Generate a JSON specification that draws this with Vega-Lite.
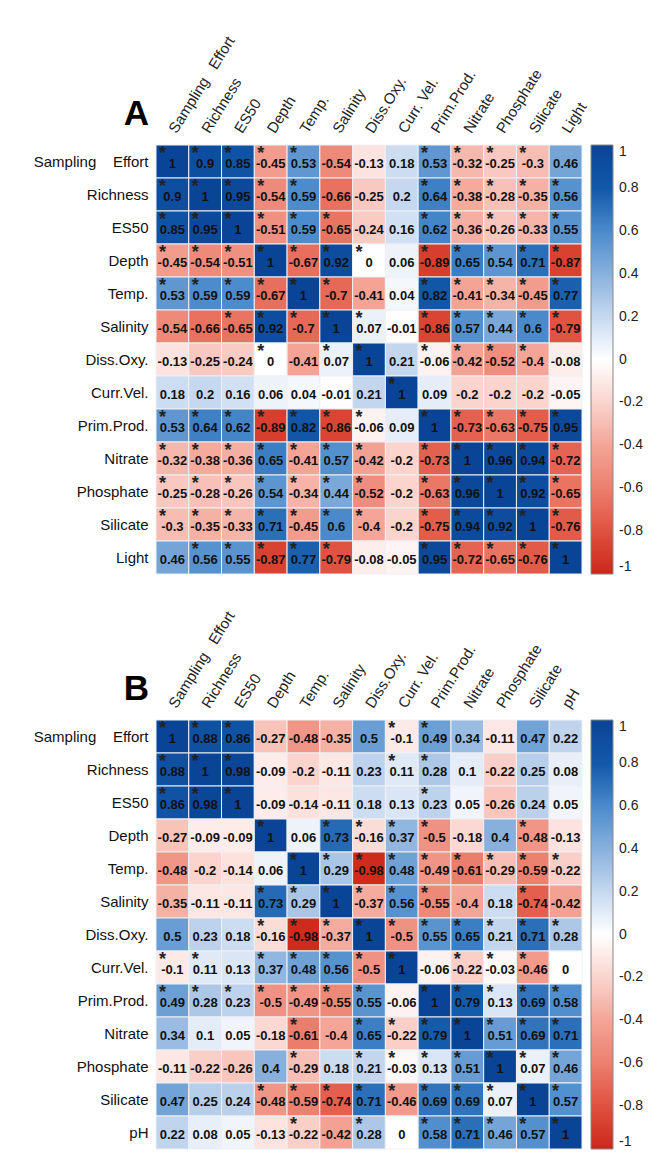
{
"$schema": "https://vega.github.io/schema/vega-lite/v6.json",
"background": "white",
"padding": {"left": 33, "top": 33, "right": 5, "bottom": 0},
"spacing": 33,
"config": {"view": {"stroke": null}, "font": "Liberation Sans", "axis": {"labelFont": "Liberation Sans", "titleFont": "Liberation Sans"}, "legend": {"labelFont": "Liberation Sans"}},
"resolve": {"scale": {"color": "independent"}},
"datasets": {
"A": [
{"r":"Sampling Effort","c":"Sampling Effort","v":1,"s":1},{"r":"Sampling Effort","c":"Richness","v":0.9,"s":1},{"r":"Sampling Effort","c":"ES50","v":0.85,"s":1},{"r":"Sampling Effort","c":"Depth","v":-0.45,"s":1},{"r":"Sampling Effort","c":"Temp.","v":0.53,"s":1},{"r":"Sampling Effort","c":"Salinity","v":-0.54,"s":0},{"r":"Sampling Effort","c":"Diss.Oxy.","v":-0.13,"s":0},{"r":"Sampling Effort","c":"Curr.Vel.","v":0.18,"s":0},{"r":"Sampling Effort","c":"Prim.Prod.","v":0.53,"s":1},{"r":"Sampling Effort","c":"Nitrate","v":-0.32,"s":1},{"r":"Sampling Effort","c":"Phosphate","v":-0.25,"s":1},{"r":"Sampling Effort","c":"Silicate","v":-0.3,"s":1},{"r":"Sampling Effort","c":"Light","v":0.46,"s":0},
{"r":"Richness","c":"Sampling Effort","v":0.9,"s":1},{"r":"Richness","c":"Richness","v":1,"s":1},{"r":"Richness","c":"ES50","v":0.95,"s":1},{"r":"Richness","c":"Depth","v":-0.54,"s":1},{"r":"Richness","c":"Temp.","v":0.59,"s":1},{"r":"Richness","c":"Salinity","v":-0.66,"s":0},{"r":"Richness","c":"Diss.Oxy.","v":-0.25,"s":0},{"r":"Richness","c":"Curr.Vel.","v":0.2,"s":0},{"r":"Richness","c":"Prim.Prod.","v":0.64,"s":1},{"r":"Richness","c":"Nitrate","v":-0.38,"s":1},{"r":"Richness","c":"Phosphate","v":-0.28,"s":1},{"r":"Richness","c":"Silicate","v":-0.35,"s":1},{"r":"Richness","c":"Light","v":0.56,"s":1},
{"r":"ES50","c":"Sampling Effort","v":0.85,"s":1},{"r":"ES50","c":"Richness","v":0.95,"s":1},{"r":"ES50","c":"ES50","v":1,"s":1},{"r":"ES50","c":"Depth","v":-0.51,"s":1},{"r":"ES50","c":"Temp.","v":0.59,"s":1},{"r":"ES50","c":"Salinity","v":-0.65,"s":1},{"r":"ES50","c":"Diss.Oxy.","v":-0.24,"s":0},{"r":"ES50","c":"Curr.Vel.","v":0.16,"s":0},{"r":"ES50","c":"Prim.Prod.","v":0.62,"s":1},{"r":"ES50","c":"Nitrate","v":-0.36,"s":1},{"r":"ES50","c":"Phosphate","v":-0.26,"s":1},{"r":"ES50","c":"Silicate","v":-0.33,"s":1},{"r":"ES50","c":"Light","v":0.55,"s":1},
{"r":"Depth","c":"Sampling Effort","v":-0.45,"s":1},{"r":"Depth","c":"Richness","v":-0.54,"s":1},{"r":"Depth","c":"ES50","v":-0.51,"s":1},{"r":"Depth","c":"Depth","v":1,"s":1},{"r":"Depth","c":"Temp.","v":-0.67,"s":1},{"r":"Depth","c":"Salinity","v":0.92,"s":1},{"r":"Depth","c":"Diss.Oxy.","v":0,"s":1},{"r":"Depth","c":"Curr.Vel.","v":0.06,"s":0},{"r":"Depth","c":"Prim.Prod.","v":-0.89,"s":1},{"r":"Depth","c":"Nitrate","v":0.65,"s":1},{"r":"Depth","c":"Phosphate","v":0.54,"s":1},{"r":"Depth","c":"Silicate","v":0.71,"s":1},{"r":"Depth","c":"Light","v":-0.87,"s":1},
{"r":"Temp.","c":"Sampling Effort","v":0.53,"s":1},{"r":"Temp.","c":"Richness","v":0.59,"s":1},{"r":"Temp.","c":"ES50","v":0.59,"s":1},{"r":"Temp.","c":"Depth","v":-0.67,"s":1},{"r":"Temp.","c":"Temp.","v":1,"s":1},{"r":"Temp.","c":"Salinity","v":-0.7,"s":1},{"r":"Temp.","c":"Diss.Oxy.","v":-0.41,"s":0},{"r":"Temp.","c":"Curr.Vel.","v":0.04,"s":0},{"r":"Temp.","c":"Prim.Prod.","v":0.82,"s":1},{"r":"Temp.","c":"Nitrate","v":-0.41,"s":1},{"r":"Temp.","c":"Phosphate","v":-0.34,"s":1},{"r":"Temp.","c":"Silicate","v":-0.45,"s":1},{"r":"Temp.","c":"Light","v":0.77,"s":1},
{"r":"Salinity","c":"Sampling Effort","v":-0.54,"s":0},{"r":"Salinity","c":"Richness","v":-0.66,"s":0},{"r":"Salinity","c":"ES50","v":-0.65,"s":1},{"r":"Salinity","c":"Depth","v":0.92,"s":1},{"r":"Salinity","c":"Temp.","v":-0.7,"s":1},{"r":"Salinity","c":"Salinity","v":1,"s":1},{"r":"Salinity","c":"Diss.Oxy.","v":0.07,"s":1},{"r":"Salinity","c":"Curr.Vel.","v":-0.01,"s":0},{"r":"Salinity","c":"Prim.Prod.","v":-0.86,"s":1},{"r":"Salinity","c":"Nitrate","v":0.57,"s":1},{"r":"Salinity","c":"Phosphate","v":0.44,"s":1},{"r":"Salinity","c":"Silicate","v":0.6,"s":1},{"r":"Salinity","c":"Light","v":-0.79,"s":1},
{"r":"Diss.Oxy.","c":"Sampling Effort","v":-0.13,"s":0},{"r":"Diss.Oxy.","c":"Richness","v":-0.25,"s":0},{"r":"Diss.Oxy.","c":"ES50","v":-0.24,"s":0},{"r":"Diss.Oxy.","c":"Depth","v":0,"s":1},{"r":"Diss.Oxy.","c":"Temp.","v":-0.41,"s":0},{"r":"Diss.Oxy.","c":"Salinity","v":0.07,"s":1},{"r":"Diss.Oxy.","c":"Diss.Oxy.","v":1,"s":1},{"r":"Diss.Oxy.","c":"Curr.Vel.","v":0.21,"s":0},{"r":"Diss.Oxy.","c":"Prim.Prod.","v":-0.06,"s":1},{"r":"Diss.Oxy.","c":"Nitrate","v":-0.42,"s":1},{"r":"Diss.Oxy.","c":"Phosphate","v":-0.52,"s":1},{"r":"Diss.Oxy.","c":"Silicate","v":-0.4,"s":1},{"r":"Diss.Oxy.","c":"Light","v":-0.08,"s":0},
{"r":"Curr.Vel.","c":"Sampling Effort","v":0.18,"s":0},{"r":"Curr.Vel.","c":"Richness","v":0.2,"s":0},{"r":"Curr.Vel.","c":"ES50","v":0.16,"s":0},{"r":"Curr.Vel.","c":"Depth","v":0.06,"s":0},{"r":"Curr.Vel.","c":"Temp.","v":0.04,"s":0},{"r":"Curr.Vel.","c":"Salinity","v":-0.01,"s":0},{"r":"Curr.Vel.","c":"Diss.Oxy.","v":0.21,"s":0},{"r":"Curr.Vel.","c":"Curr.Vel.","v":1,"s":1},{"r":"Curr.Vel.","c":"Prim.Prod.","v":0.09,"s":0},{"r":"Curr.Vel.","c":"Nitrate","v":-0.2,"s":0},{"r":"Curr.Vel.","c":"Phosphate","v":-0.2,"s":0},{"r":"Curr.Vel.","c":"Silicate","v":-0.2,"s":0},{"r":"Curr.Vel.","c":"Light","v":-0.05,"s":0},
{"r":"Prim.Prod.","c":"Sampling Effort","v":0.53,"s":1},{"r":"Prim.Prod.","c":"Richness","v":0.64,"s":1},{"r":"Prim.Prod.","c":"ES50","v":0.62,"s":1},{"r":"Prim.Prod.","c":"Depth","v":-0.89,"s":1},{"r":"Prim.Prod.","c":"Temp.","v":0.82,"s":1},{"r":"Prim.Prod.","c":"Salinity","v":-0.86,"s":1},{"r":"Prim.Prod.","c":"Diss.Oxy.","v":-0.06,"s":1},{"r":"Prim.Prod.","c":"Curr.Vel.","v":0.09,"s":0},{"r":"Prim.Prod.","c":"Prim.Prod.","v":1,"s":1},{"r":"Prim.Prod.","c":"Nitrate","v":-0.73,"s":1},{"r":"Prim.Prod.","c":"Phosphate","v":-0.63,"s":1},{"r":"Prim.Prod.","c":"Silicate","v":-0.75,"s":1},{"r":"Prim.Prod.","c":"Light","v":0.95,"s":1},
{"r":"Nitrate","c":"Sampling Effort","v":-0.32,"s":1},{"r":"Nitrate","c":"Richness","v":-0.38,"s":1},{"r":"Nitrate","c":"ES50","v":-0.36,"s":1},{"r":"Nitrate","c":"Depth","v":0.65,"s":1},{"r":"Nitrate","c":"Temp.","v":-0.41,"s":1},{"r":"Nitrate","c":"Salinity","v":0.57,"s":1},{"r":"Nitrate","c":"Diss.Oxy.","v":-0.42,"s":1},{"r":"Nitrate","c":"Curr.Vel.","v":-0.2,"s":0},{"r":"Nitrate","c":"Prim.Prod.","v":-0.73,"s":1},{"r":"Nitrate","c":"Nitrate","v":1,"s":1},{"r":"Nitrate","c":"Phosphate","v":0.96,"s":1},{"r":"Nitrate","c":"Silicate","v":0.94,"s":1},{"r":"Nitrate","c":"Light","v":-0.72,"s":1},
{"r":"Phosphate","c":"Sampling Effort","v":-0.25,"s":1},{"r":"Phosphate","c":"Richness","v":-0.28,"s":1},{"r":"Phosphate","c":"ES50","v":-0.26,"s":1},{"r":"Phosphate","c":"Depth","v":0.54,"s":1},{"r":"Phosphate","c":"Temp.","v":-0.34,"s":1},{"r":"Phosphate","c":"Salinity","v":0.44,"s":1},{"r":"Phosphate","c":"Diss.Oxy.","v":-0.52,"s":1},{"r":"Phosphate","c":"Curr.Vel.","v":-0.2,"s":0},{"r":"Phosphate","c":"Prim.Prod.","v":-0.63,"s":1},{"r":"Phosphate","c":"Nitrate","v":0.96,"s":1},{"r":"Phosphate","c":"Phosphate","v":1,"s":1},{"r":"Phosphate","c":"Silicate","v":0.92,"s":1},{"r":"Phosphate","c":"Light","v":-0.65,"s":1},
{"r":"Silicate","c":"Sampling Effort","v":-0.3,"s":1},{"r":"Silicate","c":"Richness","v":-0.35,"s":1},{"r":"Silicate","c":"ES50","v":-0.33,"s":1},{"r":"Silicate","c":"Depth","v":0.71,"s":1},{"r":"Silicate","c":"Temp.","v":-0.45,"s":1},{"r":"Silicate","c":"Salinity","v":0.6,"s":1},{"r":"Silicate","c":"Diss.Oxy.","v":-0.4,"s":1},{"r":"Silicate","c":"Curr.Vel.","v":-0.2,"s":0},{"r":"Silicate","c":"Prim.Prod.","v":-0.75,"s":1},{"r":"Silicate","c":"Nitrate","v":0.94,"s":1},{"r":"Silicate","c":"Phosphate","v":0.92,"s":1},{"r":"Silicate","c":"Silicate","v":1,"s":1},{"r":"Silicate","c":"Light","v":-0.76,"s":1},
{"r":"Light","c":"Sampling Effort","v":0.46,"s":0},{"r":"Light","c":"Richness","v":0.56,"s":1},{"r":"Light","c":"ES50","v":0.55,"s":1},{"r":"Light","c":"Depth","v":-0.87,"s":1},{"r":"Light","c":"Temp.","v":0.77,"s":1},{"r":"Light","c":"Salinity","v":-0.79,"s":1},{"r":"Light","c":"Diss.Oxy.","v":-0.08,"s":0},{"r":"Light","c":"Curr.Vel.","v":-0.05,"s":0},{"r":"Light","c":"Prim.Prod.","v":0.95,"s":1},{"r":"Light","c":"Nitrate","v":-0.72,"s":1},{"r":"Light","c":"Phosphate","v":-0.65,"s":1},{"r":"Light","c":"Silicate","v":-0.76,"s":1},{"r":"Light","c":"Light","v":1,"s":1}
],
"B": [
{"r":"Sampling Effort","c":"Sampling Effort","v":1,"s":1},{"r":"Sampling Effort","c":"Richness","v":0.88,"s":1},{"r":"Sampling Effort","c":"ES50","v":0.86,"s":1},{"r":"Sampling Effort","c":"Depth","v":-0.27,"s":0},{"r":"Sampling Effort","c":"Temp.","v":-0.48,"s":0},{"r":"Sampling Effort","c":"Salinity","v":-0.35,"s":0},{"r":"Sampling Effort","c":"Diss.Oxy.","v":0.5,"s":0},{"r":"Sampling Effort","c":"Curr.Vel.","v":-0.1,"s":1},{"r":"Sampling Effort","c":"Prim.Prod.","v":0.49,"s":1},{"r":"Sampling Effort","c":"Nitrate","v":0.34,"s":0},{"r":"Sampling Effort","c":"Phosphate","v":-0.11,"s":0},{"r":"Sampling Effort","c":"Silicate","v":0.47,"s":0},{"r":"Sampling Effort","c":"pH","v":0.22,"s":0},
{"r":"Richness","c":"Sampling Effort","v":0.88,"s":1},{"r":"Richness","c":"Richness","v":1,"s":1},{"r":"Richness","c":"ES50","v":0.98,"s":1},{"r":"Richness","c":"Depth","v":-0.09,"s":0},{"r":"Richness","c":"Temp.","v":-0.2,"s":0},{"r":"Richness","c":"Salinity","v":-0.11,"s":0},{"r":"Richness","c":"Diss.Oxy.","v":0.23,"s":0},{"r":"Richness","c":"Curr.Vel.","v":0.11,"s":1},{"r":"Richness","c":"Prim.Prod.","v":0.28,"s":1},{"r":"Richness","c":"Nitrate","v":0.1,"s":0},{"r":"Richness","c":"Phosphate","v":-0.22,"s":0},{"r":"Richness","c":"Silicate","v":0.25,"s":0},{"r":"Richness","c":"pH","v":0.08,"s":0},
{"r":"ES50","c":"Sampling Effort","v":0.86,"s":1},{"r":"ES50","c":"Richness","v":0.98,"s":1},{"r":"ES50","c":"ES50","v":1,"s":1},{"r":"ES50","c":"Depth","v":-0.09,"s":0},{"r":"ES50","c":"Temp.","v":-0.14,"s":0},{"r":"ES50","c":"Salinity","v":-0.11,"s":0},{"r":"ES50","c":"Diss.Oxy.","v":0.18,"s":0},{"r":"ES50","c":"Curr.Vel.","v":0.13,"s":0},{"r":"ES50","c":"Prim.Prod.","v":0.23,"s":1},{"r":"ES50","c":"Nitrate","v":0.05,"s":0},{"r":"ES50","c":"Phosphate","v":-0.26,"s":0},{"r":"ES50","c":"Silicate","v":0.24,"s":0},{"r":"ES50","c":"pH","v":0.05,"s":0},
{"r":"Depth","c":"Sampling Effort","v":-0.27,"s":0},{"r":"Depth","c":"Richness","v":-0.09,"s":0},{"r":"Depth","c":"ES50","v":-0.09,"s":0},{"r":"Depth","c":"Depth","v":1,"s":1},{"r":"Depth","c":"Temp.","v":0.06,"s":0},{"r":"Depth","c":"Salinity","v":0.73,"s":1},{"r":"Depth","c":"Diss.Oxy.","v":-0.16,"s":1},{"r":"Depth","c":"Curr.Vel.","v":0.37,"s":1},{"r":"Depth","c":"Prim.Prod.","v":-0.5,"s":1},{"r":"Depth","c":"Nitrate","v":-0.18,"s":0},{"r":"Depth","c":"Phosphate","v":0.4,"s":0},{"r":"Depth","c":"Silicate","v":-0.48,"s":1},{"r":"Depth","c":"pH","v":-0.13,"s":0},
{"r":"Temp.","c":"Sampling Effort","v":-0.48,"s":0},{"r":"Temp.","c":"Richness","v":-0.2,"s":0},{"r":"Temp.","c":"ES50","v":-0.14,"s":0},{"r":"Temp.","c":"Depth","v":0.06,"s":0},{"r":"Temp.","c":"Temp.","v":1,"s":1},{"r":"Temp.","c":"Salinity","v":0.29,"s":1},{"r":"Temp.","c":"Diss.Oxy.","v":-0.98,"s":1},{"r":"Temp.","c":"Curr.Vel.","v":0.48,"s":1},{"r":"Temp.","c":"Prim.Prod.","v":-0.49,"s":1},{"r":"Temp.","c":"Nitrate","v":-0.61,"s":1},{"r":"Temp.","c":"Phosphate","v":-0.29,"s":1},{"r":"Temp.","c":"Silicate","v":-0.59,"s":1},{"r":"Temp.","c":"pH","v":-0.22,"s":1},
{"r":"Salinity","c":"Sampling Effort","v":-0.35,"s":0},{"r":"Salinity","c":"Richness","v":-0.11,"s":0},{"r":"Salinity","c":"ES50","v":-0.11,"s":0},{"r":"Salinity","c":"Depth","v":0.73,"s":1},{"r":"Salinity","c":"Temp.","v":0.29,"s":1},{"r":"Salinity","c":"Salinity","v":1,"s":1},{"r":"Salinity","c":"Diss.Oxy.","v":-0.37,"s":1},{"r":"Salinity","c":"Curr.Vel.","v":0.56,"s":1},{"r":"Salinity","c":"Prim.Prod.","v":-0.55,"s":1},{"r":"Salinity","c":"Nitrate","v":-0.4,"s":0},{"r":"Salinity","c":"Phosphate","v":0.18,"s":0},{"r":"Salinity","c":"Silicate","v":-0.74,"s":1},{"r":"Salinity","c":"pH","v":-0.42,"s":0},
{"r":"Diss.Oxy.","c":"Sampling Effort","v":0.5,"s":0},{"r":"Diss.Oxy.","c":"Richness","v":0.23,"s":0},{"r":"Diss.Oxy.","c":"ES50","v":0.18,"s":0},{"r":"Diss.Oxy.","c":"Depth","v":-0.16,"s":1},{"r":"Diss.Oxy.","c":"Temp.","v":-0.98,"s":1},{"r":"Diss.Oxy.","c":"Salinity","v":-0.37,"s":1},{"r":"Diss.Oxy.","c":"Diss.Oxy.","v":1,"s":1},{"r":"Diss.Oxy.","c":"Curr.Vel.","v":-0.5,"s":1},{"r":"Diss.Oxy.","c":"Prim.Prod.","v":0.55,"s":1},{"r":"Diss.Oxy.","c":"Nitrate","v":0.65,"s":1},{"r":"Diss.Oxy.","c":"Phosphate","v":0.21,"s":1},{"r":"Diss.Oxy.","c":"Silicate","v":0.71,"s":1},{"r":"Diss.Oxy.","c":"pH","v":0.28,"s":1},
{"r":"Curr.Vel.","c":"Sampling Effort","v":-0.1,"s":1},{"r":"Curr.Vel.","c":"Richness","v":0.11,"s":1},{"r":"Curr.Vel.","c":"ES50","v":0.13,"s":0},{"r":"Curr.Vel.","c":"Depth","v":0.37,"s":1},{"r":"Curr.Vel.","c":"Temp.","v":0.48,"s":1},{"r":"Curr.Vel.","c":"Salinity","v":0.56,"s":1},{"r":"Curr.Vel.","c":"Diss.Oxy.","v":-0.5,"s":1},{"r":"Curr.Vel.","c":"Curr.Vel.","v":1,"s":1},{"r":"Curr.Vel.","c":"Prim.Prod.","v":-0.06,"s":0},{"r":"Curr.Vel.","c":"Nitrate","v":-0.22,"s":1},{"r":"Curr.Vel.","c":"Phosphate","v":-0.03,"s":1},{"r":"Curr.Vel.","c":"Silicate","v":-0.46,"s":1},{"r":"Curr.Vel.","c":"pH","v":0,"s":0},
{"r":"Prim.Prod.","c":"Sampling Effort","v":0.49,"s":1},{"r":"Prim.Prod.","c":"Richness","v":0.28,"s":1},{"r":"Prim.Prod.","c":"ES50","v":0.23,"s":1},{"r":"Prim.Prod.","c":"Depth","v":-0.5,"s":1},{"r":"Prim.Prod.","c":"Temp.","v":-0.49,"s":1},{"r":"Prim.Prod.","c":"Salinity","v":-0.55,"s":1},{"r":"Prim.Prod.","c":"Diss.Oxy.","v":0.55,"s":1},{"r":"Prim.Prod.","c":"Curr.Vel.","v":-0.06,"s":0},{"r":"Prim.Prod.","c":"Prim.Prod.","v":1,"s":1},{"r":"Prim.Prod.","c":"Nitrate","v":0.79,"s":1},{"r":"Prim.Prod.","c":"Phosphate","v":0.13,"s":1},{"r":"Prim.Prod.","c":"Silicate","v":0.69,"s":1},{"r":"Prim.Prod.","c":"pH","v":0.58,"s":1},
{"r":"Nitrate","c":"Sampling Effort","v":0.34,"s":0},{"r":"Nitrate","c":"Richness","v":0.1,"s":0},{"r":"Nitrate","c":"ES50","v":0.05,"s":0},{"r":"Nitrate","c":"Depth","v":-0.18,"s":0},{"r":"Nitrate","c":"Temp.","v":-0.61,"s":1},{"r":"Nitrate","c":"Salinity","v":-0.4,"s":0},{"r":"Nitrate","c":"Diss.Oxy.","v":0.65,"s":1},{"r":"Nitrate","c":"Curr.Vel.","v":-0.22,"s":1},{"r":"Nitrate","c":"Prim.Prod.","v":0.79,"s":1},{"r":"Nitrate","c":"Nitrate","v":1,"s":1},{"r":"Nitrate","c":"Phosphate","v":0.51,"s":1},{"r":"Nitrate","c":"Silicate","v":0.69,"s":1},{"r":"Nitrate","c":"pH","v":0.71,"s":1},
{"r":"Phosphate","c":"Sampling Effort","v":-0.11,"s":0},{"r":"Phosphate","c":"Richness","v":-0.22,"s":0},{"r":"Phosphate","c":"ES50","v":-0.26,"s":0},{"r":"Phosphate","c":"Depth","v":0.4,"s":0},{"r":"Phosphate","c":"Temp.","v":-0.29,"s":1},{"r":"Phosphate","c":"Salinity","v":0.18,"s":0},{"r":"Phosphate","c":"Diss.Oxy.","v":0.21,"s":1},{"r":"Phosphate","c":"Curr.Vel.","v":-0.03,"s":1},{"r":"Phosphate","c":"Prim.Prod.","v":0.13,"s":1},{"r":"Phosphate","c":"Nitrate","v":0.51,"s":1},{"r":"Phosphate","c":"Phosphate","v":1,"s":1},{"r":"Phosphate","c":"Silicate","v":0.07,"s":1},{"r":"Phosphate","c":"pH","v":0.46,"s":1},
{"r":"Silicate","c":"Sampling Effort","v":0.47,"s":0},{"r":"Silicate","c":"Richness","v":0.25,"s":0},{"r":"Silicate","c":"ES50","v":0.24,"s":0},{"r":"Silicate","c":"Depth","v":-0.48,"s":1},{"r":"Silicate","c":"Temp.","v":-0.59,"s":1},{"r":"Silicate","c":"Salinity","v":-0.74,"s":1},{"r":"Silicate","c":"Diss.Oxy.","v":0.71,"s":1},{"r":"Silicate","c":"Curr.Vel.","v":-0.46,"s":1},{"r":"Silicate","c":"Prim.Prod.","v":0.69,"s":1},{"r":"Silicate","c":"Nitrate","v":0.69,"s":1},{"r":"Silicate","c":"Phosphate","v":0.07,"s":1},{"r":"Silicate","c":"Silicate","v":1,"s":1},{"r":"Silicate","c":"pH","v":0.57,"s":1},
{"r":"pH","c":"Sampling Effort","v":0.22,"s":0},{"r":"pH","c":"Richness","v":0.08,"s":0},{"r":"pH","c":"ES50","v":0.05,"s":0},{"r":"pH","c":"Depth","v":-0.13,"s":0},{"r":"pH","c":"Temp.","v":-0.22,"s":1},{"r":"pH","c":"Salinity","v":-0.42,"s":0},{"r":"pH","c":"Diss.Oxy.","v":0.28,"s":1},{"r":"pH","c":"Curr.Vel.","v":0,"s":0},{"r":"pH","c":"Prim.Prod.","v":0.58,"s":1},{"r":"pH","c":"Nitrate","v":0.71,"s":1},{"r":"pH","c":"Phosphate","v":0.46,"s":1},{"r":"pH","c":"Silicate","v":0.57,"s":1},{"r":"pH","c":"pH","v":1,"s":1}
]
},
"vconcat": [
{
"data": {"name": "A"},
"width": 426, "height": 429,
"encoding": {
"x": {"field": "c", "type": "nominal", "sort": ["Sampling Effort","Richness","ES50","Depth","Temp.","Salinity","Diss.Oxy.","Curr.Vel.","Prim.Prod.","Nitrate","Phosphate","Silicate","Light"], "title": null,
 "axis": {"orient": "top", "labelAngle": -58, "labelAlign": "left", "labelBaseline": "middle", "labelFontSize": 15, "labelColor": "#222", "domain": false, "ticks": false, "labelPadding": 14, "labelExpr": "datum.value == 'Curr.Vel.' ? 'Curr. Vel.' : datum.value == 'Sampling Effort' ? 'Sampling\u00a0\u00a0\u00a0Effort' : datum.value"}},
"y": {"field": "r", "type": "nominal", "sort": ["Sampling Effort","Richness","ES50","Depth","Temp.","Salinity","Diss.Oxy.","Curr.Vel.","Prim.Prod.","Nitrate","Phosphate","Silicate","Light"], "title": "A",
 "axis": {"labelFontSize": 15, "labelColor": "#111", "domain": false, "ticks": false, "labelPadding": 8, "labelExpr": "datum.value == 'Sampling Effort' ? 'Sampling\u00a0\u00a0\u00a0\u00a0Effort' : datum.value", "titleAngle": 0, "titleX": -20, "titleY": -21, "titleFontSize": 35, "titleFontWeight": "bold", "titleAlign": "center", "titleBaseline": "alphabetic", "titleColor": "#000"}}
},
"layer": [
{"mark": {"type": "rect", "stroke": "#eef0f4", "strokeWidth": 1},
 "encoding": {"color": {"field": "v", "type": "quantitative",
  "scale": {"domain": [-1,-0.8,-0.6,-0.4,-0.2,0,0.2,0.4,0.6,0.8,1], "range": ["#cc2718","#e0513f","#ec7f6e","#f4a597","#fad4cd","#ffffff","#c6d8ef","#88b0dc","#4a8acb","#1258a9","#0a4496"], "interpolate": "rgb"},
  "legend": {"title": null, "orient": "right", "offset": 9, "gradientLength": 429, "gradientThickness": 22, "gradientStrokeColor": "#888", "gradientStrokeWidth": 1, "labelFontSize": 14, "labelColor": "#222", "labelOverlap": false, "values": [-1,-0.8,-0.6,-0.4,-0.2,0,0.2,0.4,0.6,0.8,1], "labelExpr": "'' + datum.value", "labelOffset": 6}}}},
{"mark": {"type": "text", "fontSize": 13, "fontWeight": "bold", "color": "#111", "dy": 2},
 "encoding": {"text": {"field": "v", "type": "nominal"}}},
{"transform": [{"filter": "datum.s == 1"}],
 "mark": {"type": "text", "text": "*", "fontSize": 18, "fontWeight": "bold", "color": "#222", "dx": -10, "dy": -8},
 "encoding": {}}
]
},
{
"data": {"name": "B"},
"width": 426, "height": 429,
"encoding": {
"x": {"field": "c", "type": "nominal", "sort": ["Sampling Effort","Richness","ES50","Depth","Temp.","Salinity","Diss.Oxy.","Curr.Vel.","Prim.Prod.","Nitrate","Phosphate","Silicate","pH"], "title": null,
 "axis": {"orient": "top", "labelAngle": -58, "labelAlign": "left", "labelBaseline": "middle", "labelFontSize": 15, "labelColor": "#222", "domain": false, "ticks": false, "labelPadding": 14, "labelExpr": "datum.value == 'Curr.Vel.' ? 'Curr. Vel.' : datum.value == 'Sampling Effort' ? 'Sampling\u00a0\u00a0\u00a0Effort' : datum.value"}},
"y": {"field": "r", "type": "nominal", "sort": ["Sampling Effort","Richness","ES50","Depth","Temp.","Salinity","Diss.Oxy.","Curr.Vel.","Prim.Prod.","Nitrate","Phosphate","Silicate","pH"], "title": "B",
 "axis": {"labelFontSize": 15, "labelColor": "#111", "domain": false, "ticks": false, "labelPadding": 8, "labelExpr": "datum.value == 'Sampling Effort' ? 'Sampling\u00a0\u00a0\u00a0\u00a0Effort' : datum.value", "titleAngle": 0, "titleX": -20, "titleY": -21, "titleFontSize": 35, "titleFontWeight": "bold", "titleAlign": "center", "titleBaseline": "alphabetic", "titleColor": "#000"}}
},
"layer": [
{"mark": {"type": "rect", "stroke": "#eef0f4", "strokeWidth": 1},
 "encoding": {"color": {"field": "v", "type": "quantitative",
  "scale": {"domain": [-1,-0.8,-0.6,-0.4,-0.2,0,0.2,0.4,0.6,0.8,1], "range": ["#cc2718","#e0513f","#ec7f6e","#f4a597","#fad4cd","#ffffff","#c6d8ef","#88b0dc","#4a8acb","#1258a9","#0a4496"], "interpolate": "rgb"},
  "legend": {"title": null, "orient": "right", "offset": 9, "gradientLength": 429, "gradientThickness": 22, "gradientStrokeColor": "#888", "gradientStrokeWidth": 1, "labelFontSize": 14, "labelColor": "#222", "labelOverlap": false, "values": [-1,-0.8,-0.6,-0.4,-0.2,0,0.2,0.4,0.6,0.8,1], "labelExpr": "'' + datum.value", "labelOffset": 6}}}},
{"mark": {"type": "text", "fontSize": 13, "fontWeight": "bold", "color": "#111", "dy": 2},
 "encoding": {"text": {"field": "v", "type": "nominal"}}},
{"transform": [{"filter": "datum.s == 1"}],
 "mark": {"type": "text", "text": "*", "fontSize": 18, "fontWeight": "bold", "color": "#222", "dx": -10, "dy": -8},
 "encoding": {}}
]
}
]
}
